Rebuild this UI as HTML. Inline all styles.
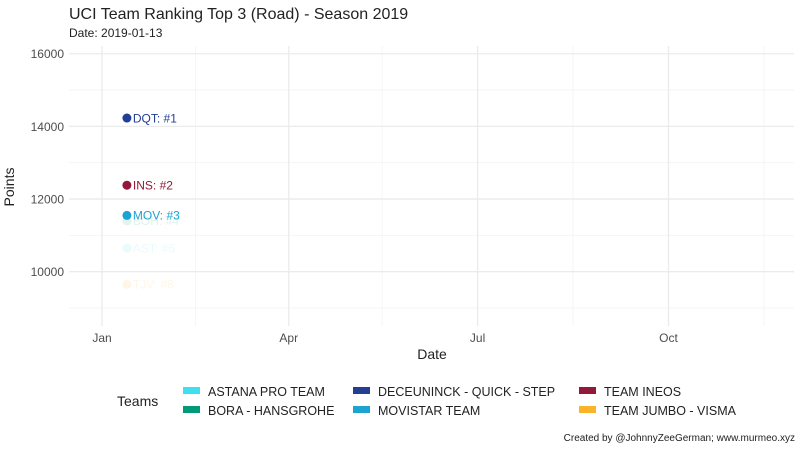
<!DOCTYPE html>
<html><head><meta charset="utf-8"><style>
body{margin:0;background:#fff;}
svg text{font-family:"Liberation Sans",sans-serif;}
</style></head><body>
<svg id="chart" width="800" height="450" xmlns="http://www.w3.org/2000/svg">
<rect width="800" height="450" fill="#fff"/>
<text x="69" y="19" font-size="16" fill="#222">UCI Team Ranking Top 3 (Road) - Season 2019</text>
<text x="69" y="37" font-size="12" fill="#222">Date: 2019-01-13</text>
<g id="grid"></g><g id="axes"></g><g id="marks"></g>
<text x="432" y="359" font-size="14" text-anchor="middle" fill="#222">Date</text>
<text transform="translate(14,187) rotate(-90)" font-size="14" text-anchor="middle" fill="#222">Points</text>
<g id="legend"></g>
<text x="795" y="441" font-size="10" text-anchor="end" fill="#222">Created by @JohnnyZeeGerman; www.murmeo.xyz</text>
</svg>
<script>
const teams=["DQT","INS","MOV","BOH","AST","TJV"];
const points=[14230,12380,11550,11400,10650,9650];
const ranks=[1,2,3,4,6,8];
const dayOfYear=[12,12,12,12,12,12];
const yTicks=[10000,12000,14000,16000];
const yMinor=[9000,11000,13000,15000];
const xTickLabels=["Jan","Apr","Jul","Oct"];
const xTickDays=[0,90,181,273];
const xMinorDays=[45,135,227,319];
const legendNames=["ASTANA PRO TEAM","BORA - HANSGROHE","DECEUNINCK - QUICK - STEP","MOVISTAR TEAM","TEAM INEOS","TEAM JUMBO - VISMA"];
const legendColors=["#3ee0ee","#009a78","#223f94","#1ca3d1","#93183a","#fbb42a"];
const teamColors={DQT:"#223f94",INS:"#93183a",MOV:"#1ca3d1",BOH:"#009a78",AST:"#3ee0ee",TJV:"#fbb42a"};
const NS="http://www.w3.org/2000/svg";
const L=69,R=794,T=46,B=326;
const y=v=>271.7-(v-10000)*0.03633;
const x=d=>102+d*2.075;
function mk(tag,attrs,parent,text){const e=document.createElementNS(NS,tag);for(const k in attrs)e.setAttribute(k,attrs[k]);if(text!==undefined)e.textContent=text;parent.appendChild(e);return e;}
const g=document.getElementById('grid'),ax=document.getElementById('axes'),m=document.getElementById('marks'),lg=document.getElementById('legend');
yMinor.forEach(v=>{const l=mk('line',{x1:L,x2:R,y1:y(v),y2:y(v),stroke:'#f3f3f3','stroke-width':0.8},g);});
xMinorDays.forEach(d=>{const l=mk('line',{x1:x(d),x2:x(d),y1:T,y2:B,stroke:'#f3f3f3','stroke-width':0.8},g);});
yTicks.forEach(v=>{const l=mk('line',{x1:L,x2:R,y1:y(v),y2:y(v),stroke:'#ebebeb','stroke-width':1.3},g);
const t=mk('text',{x:64,y:y(v)+4.5,'font-size':12,'text-anchor':'end',fill:'#4d4d4d'},ax,String(v));});
xTickDays.forEach((d,i)=>{const l=mk('line',{x1:x(d),x2:x(d),y1:T,y2:B,stroke:'#ebebeb','stroke-width':1.3},g);
const t=mk('text',{x:x(d),y:342,'font-size':12,'text-anchor':'middle',fill:'#4d4d4d'},ax,xTickLabels[i]);});
const order=[5,4,3,2,1,0];
order.forEach(i=>{const c=teamColors[teams[i]];const op=ranks[i]<=3?1:0.12;const px=x(dayOfYear[i]),py=y(points[i]);
const p=mk('circle',{cx:px,cy:py,r:4.5,fill:c,'fill-opacity':op},m);
const t=mk('text',{x:px+6,y:py+4.3,'font-size':12,fill:c,'fill-opacity':op},m,teams[i]+": #"+ranks[i]);});
const lt=mk('text',{x:117,y:406,'font-size':14,fill:'#222'},lg,'Teams');
const cols=[183,353,579];
legendNames.forEach((n,i)=>{const col=Math.floor(i/2),row=i%2;let cx=cols[col],cy=row?410:391;if(i==5){cx=cols[2];cy=410;}
const k=mk('g',{},lg);
mk('rect',{x:cx,y:cy-4,width:17,height:7,fill:legendColors[i]},k);
mk('text',{x:cx+25,y:cy+5,'font-size':12.5,fill:'#222'},k,n);});
</script>
</body></html>
